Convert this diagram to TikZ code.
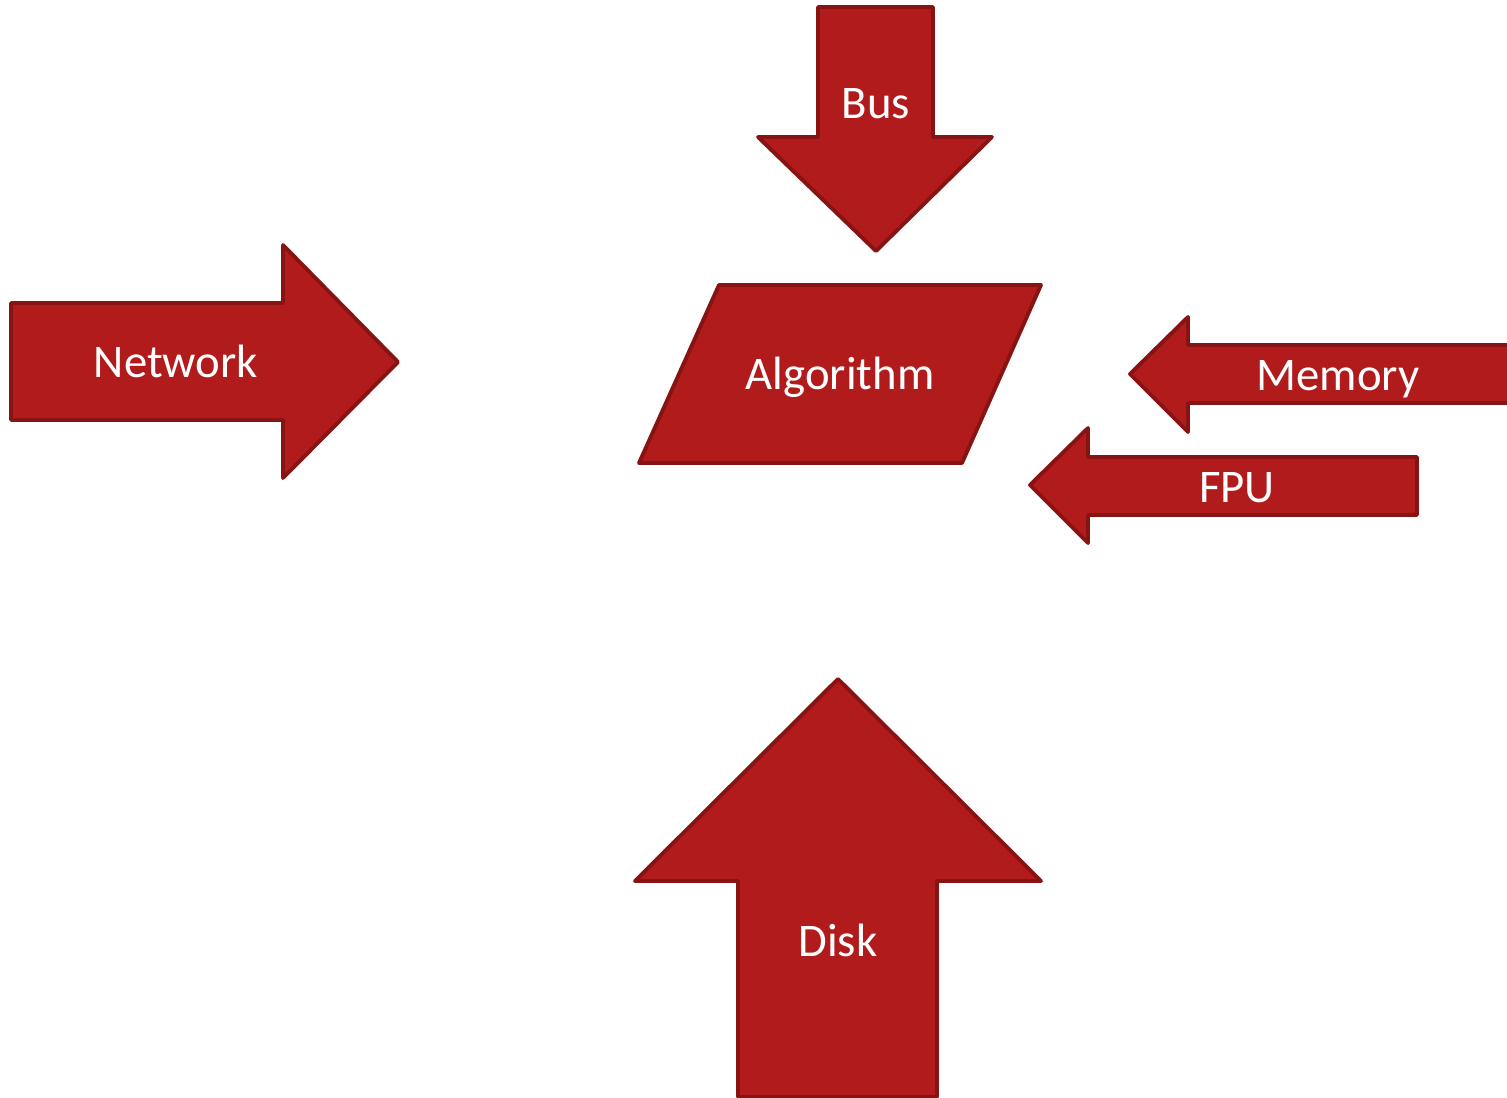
\documentclass[tikz,border=0pt]{standalone}
\usepackage{fontspec}
\setmainfont{Carlito}
\definecolor{arrowred}{RGB}{178,27,27}
\definecolor{arrowrim}{RGB}{135,19,19}

\begin{document}
\begin{tikzpicture}[x=0.1mm, y=-0.1mm,
     blockarrow/.style = {fill=arrowred, draw=arrowrim, line width=1.1pt, line join=round},
     arrowtext/.style = {text=white, anchor=base, inner sep=0pt,
      font=\fontsize{13.3}{16}\selectfont}
    ]
    \clip (0,0) rectangle (1507,1098);

    % block arrows pointing in
    \draw[blockarrow] (11,303) -- (283,303) -- (283,245) -- (398,362) -- (283,478) -- (283,420) -- (11,420) -- cycle;
    \draw[blockarrow] (818,7) -- (933,7) -- (933,137) -- (992,137) -- (876,251) -- (758,137) -- (818,137) -- cycle;
    \draw[blockarrow] (1540,345) -- (1188,345) -- (1188,317) -- (1130,374) -- (1188,432) -- (1188,403) -- (1540,403);
    \draw[blockarrow] (1417,457) -- (1088,457) -- (1088,428) -- (1030,485) -- (1088,543) -- (1088,515) -- (1417,515) -- cycle;
    \draw[blockarrow] (738,1097) -- (738,881) -- (635,881) -- (838,679) -- (1041,881) -- (937,881) -- (937,1097) -- cycle;

    % the algorithm box
    \draw[blockarrow] (719,285) -- (1041,285) -- (962,463) -- (639,463) -- cycle;

    \node[arrowtext] (network) at (176,377) {Network};
    \node[arrowtext] (bus) at (876,118) {Bus};
    \node[arrowtext] (algo) at (840,389) {Algorithm};
    \node[arrowtext] (memory) at (1338,390) {Memory};
    \node[arrowtext] (fpu) at (1237,502) {FPU};
    \node[arrowtext] (disk) at (838,956) {Disk};

\end{tikzpicture}
\end{document}
